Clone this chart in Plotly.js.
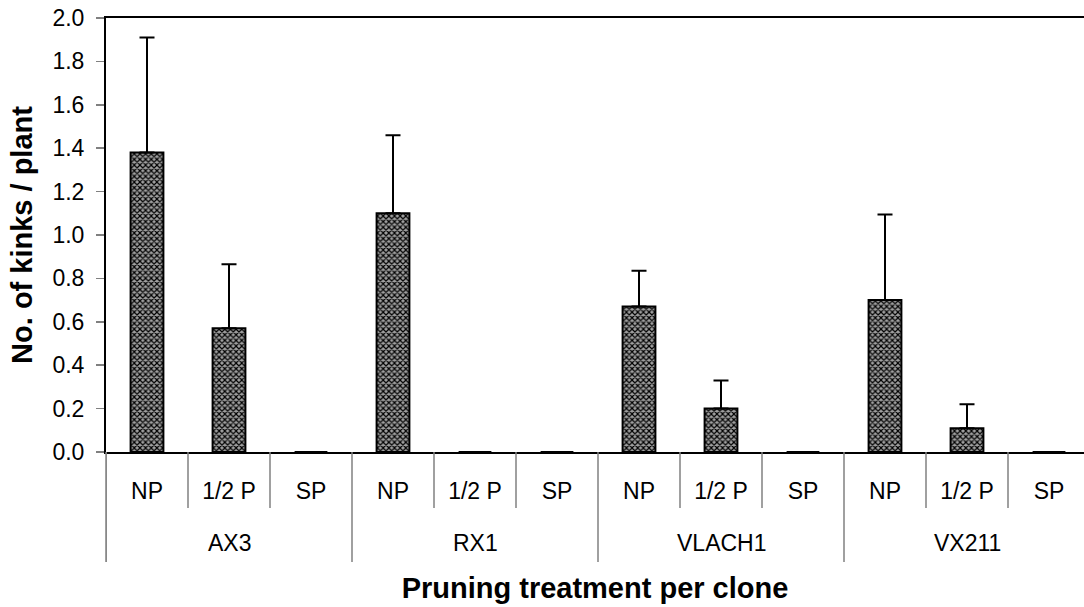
<!DOCTYPE html>
<html>
<head>
<meta charset="utf-8">
<script src="https://cdn.plot.ly/plotly-3.0.1.min.js"></script>
<style>html,body{margin:0;padding:0;background:#fff;}#chart{width:1084px;height:607px;}</style>
</head>
<body>
<div id="chart"></div>
<script>
// ---- data ----
var clones = ['AX3', 'RX1', 'VLACH1', 'VX211'];
var treatments = ['NP', '1/2 P', 'SP'];
var meanAX3 = [1.38, 0.57, 0];
var meanRX1 = [1.10, 0, 0];
var meanVLACH1 = [0.67, 0.20, 0];
var meanVX211 = [0.70, 0.11, 0];
var errAX3 = [0.53, 0.295, 0];
var errRX1 = [0.36, 0, 0];
var errVLACH1 = [0.165, 0.13, 0];
var errVX211 = [0.395, 0.11, 0];
var yTicks = [0, 0.2, 0.4, 0.6, 0.8, 1.0, 1.2, 1.4, 1.6, 1.8, 2.0];

// ---- build ----
var means = [meanAX3, meanRX1, meanVLACH1, meanVX211];
var errs = [errAX3, errRX1, errVLACH1, errVX211];
var xs = [], ys = [], es = [], zeros = [], tickText = [];
var nT = treatments.length;
for (var c = 0; c < clones.length; c++) {
  for (var t = 0; t < nT; t++) {
    xs.push(c * nT + t);
    ys.push(means[c][t]);
    es.push(errs[c][t]);
    zeros.push(0);
    tickText.push(treatments[t]);
  }
}
var FONT = 'Liberation Sans, Arial, sans-serif';
var TICK = 23, TITLE = 29;
var slotPx = 82, plotW = 1084 - 106;
var xRange = [-0.5, -0.5 + plotW / slotPx];

var shapes = [], annotations = [];
var innerLen = -56 / 434, outerLen = -110 / 434;
for (var c = 0; c < clones.length; c++) {
  for (var t = 0; t < nT; t++) {
    var xb = c * nT + t - 0.5;
    shapes.push({type: 'line', xref: 'x', yref: 'paper', x0: xb, x1: xb, y0: 0, y1: t === 0 ? outerLen : innerLen,
      line: {color: '#808080', width: 1.5}});
  }
  annotations.push({xref: 'x', yref: 'paper', x: c * nT + (nT - 1) / 2, y: 0, yshift: -91,
    text: clones[c], showarrow: false, yanchor: 'middle', font: {family: FONT, size: TICK, color: '#000'}});
}
shapes.push({type: 'line', xref: 'paper', yref: 'paper', x0: 0, x1: 0, y0: 0, y1: outerLen,
  line: {color: '#808080', width: 1.5}});

var trace = {
  type: 'bar', x: xs, y: ys, width: 0.4,
  marker: {color: '#404040', line: {color: '#000', width: 2},
    pattern: {shape: 'x', fgcolor: '#000000', bgcolor: '#a0a0a0', size: 4, solidity: 0.5}},
  error_y: {type: 'data', symmetric: false, array: es, arrayminus: zeros, color: '#000', thickness: 2, width: 7.5},
  hoverinfo: 'skip'
};

var layout = {
  width: 1084, height: 607,
  margin: {l: 106, r: 0, t: 18, b: 155},
  paper_bgcolor: '#fff', plot_bgcolor: '#fff',
  showlegend: false,
  font: {family: FONT, size: TICK, color: '#000'},
  xaxis: {range: xRange, tickvals: xs, ticktext: tickText, ticks: '', showgrid: false, zeroline: false,
    showline: true, linecolor: '#000', linewidth: 2, mirror: true, ticklabelstandoff: 17,
    tickfont: {family: FONT, size: TICK, color: '#000'},
    title: {text: '<b>Pruning treatment per clone</b>', font: {family: FONT, size: TITLE, color: '#000'}, standoff: 75}},
  yaxis: {range: [0, 2.0], tickvals: yTicks, tickformat: '.1f', ticks: 'outside', ticklen: 8, tickwidth: 1.5,
    tickcolor: '#808080', showgrid: false, zeroline: false, showline: true, linecolor: '#000', linewidth: 2,
    ticklabelstandoff: 7, tickfont: {family: FONT, size: TICK, color: '#000'},
    title: {text: '<b>No. of kinks / plant</b>', font: {family: FONT, size: TITLE, color: '#000'}, standoff: 11}},
  shapes: shapes,
  annotations: annotations
};
Plotly.newPlot('chart', [trace], layout, {staticPlot: true, displayModeBar: false});
</script>
</body>
</html>
